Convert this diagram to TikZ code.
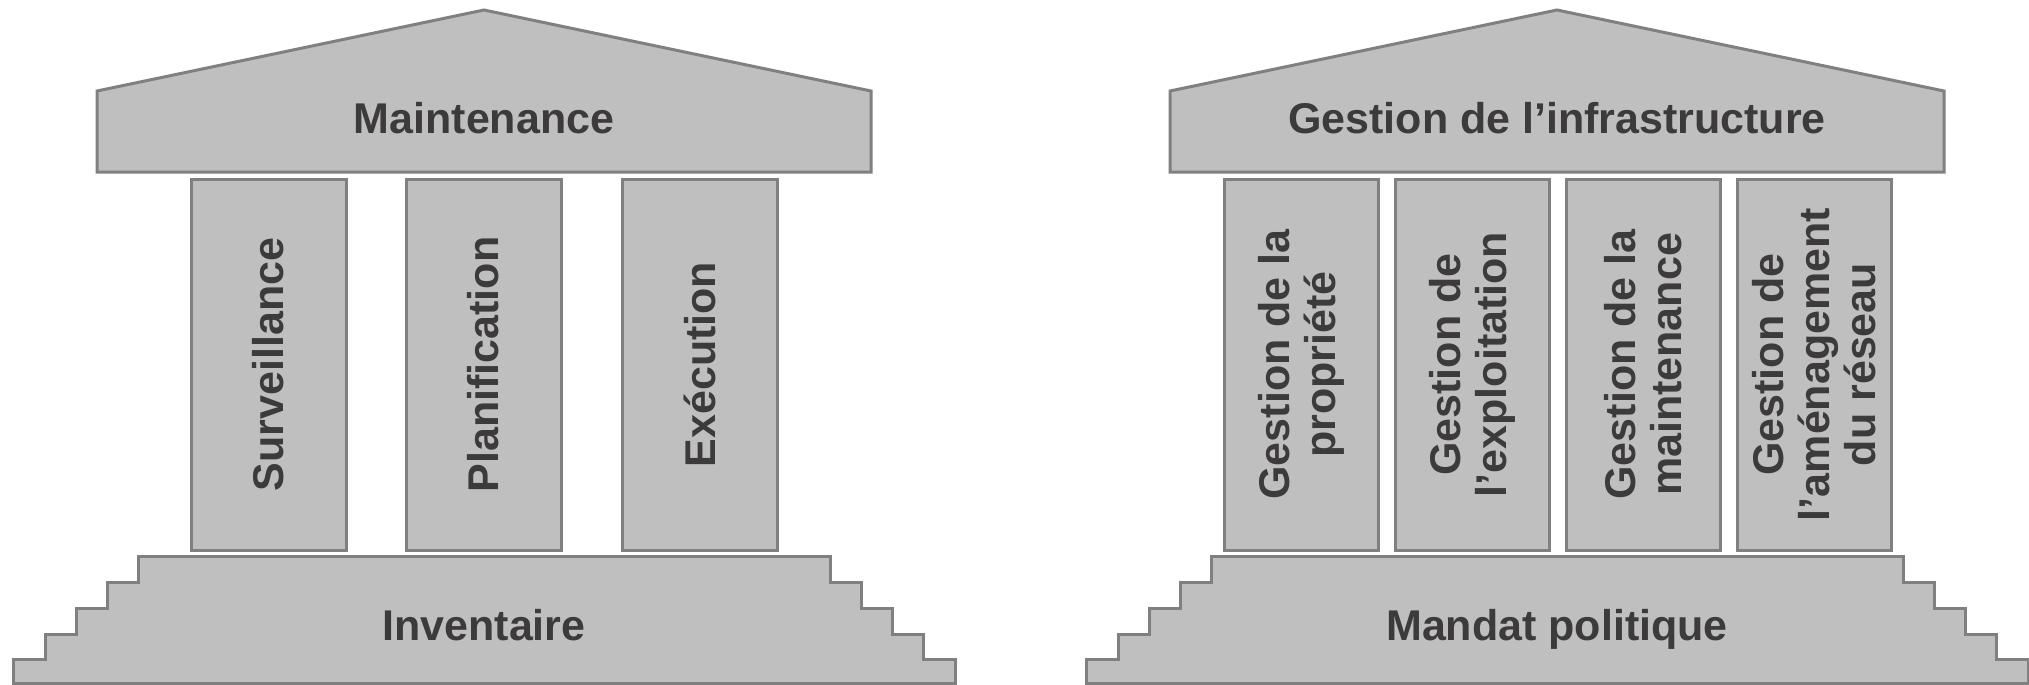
\documentclass[tikz,border=0pt]{standalone}
\usepackage{fontspec}
\setmainfont{Liberation Sans}
\usepackage{tikz}
\usetikzlibrary{calc}
\usetikzlibrary{positioning}

\definecolor{stonefill}{RGB}{191,191,191}
\definecolor{stoneline}{RGB}{128,128,128}
\definecolor{txtgray}{RGB}{60,58,58}

\begin{document}
\begin{tikzpicture}[x=1pt,y=-1pt,
		stone/.style={fill=stonefill,draw=stoneline,line width=3pt,line join=miter},
		lbl/.style={text=txtgray,font=\fontsize{43}{46}\selectfont\bfseries,anchor=base},
		pillar/.style={stone,rotate=90,minimum width=371pt,minimum height=155pt,inner sep=0pt,
			text=txtgray,font=\fontsize{43}{46}\selectfont\bfseries,align=center}]
			\useasboundingbox (0,0) rectangle (2029,685);
			%left temple: roof
			\draw[stone] (97,172)--(97,91)--(484,10)--(871,91)--(871,172)--cycle;
			\node[lbl] (roofL) at (484,133) {Maintenance};
			%left temple: pillars
			\node[pillar] (survL) at (268.5,364.5) {Surveillance};
			\node[pillar] (planL) at (483.5,364.5) {Planification};
			\node[pillar] (execL) at (699.5,364.5) {Exécution};
			%left temple: steps
			\draw[stone] (138,556)--(830,556)--(830,582)--(861,582)--(861,608)--(892,608)--(892,634)--(923,634)
				--(923,659)--(955,659)--(955,683)--(13,683)--(13,659)--(45,659)--(45,634)--(76,634)
				--(76,608)--(107,608)--(107,582)--(138,582)--cycle;
			\node[lbl] (baseL) at (484,640) {Inventaire};
			%right temple: roof
			\draw[stone] (1170,172)--(1170,91)--(1557,10)--(1944,91)--(1944,172)--cycle;
			\node[lbl] (roofR) at (1557,133) {Gestion de l’infrastructure};
			%right temple: pillars
			\node[pillar,minimum height=154pt] (propR) at (1301,364.5) {Gestion de la\\propriété};
			\node[pillar,minimum height=154pt] (explR) at (1472,364.5) {Gestion de\\l’exploitation};
			\node[pillar,minimum height=154pt] (maintR) at (1643,364.5) {Gestion de la\\maintenance};
			\node[pillar,minimum height=154pt] (amenR) at (1814,364.5) {Gestion de\\l’aménagement\\du réseau};
			%right temple: steps
			\draw[stone] (1211,556)--(1903,556)--(1903,582)--(1934,582)--(1934,608)--(1965,608)--(1965,634)--(1996,634)
				--(1996,659)--(2028,659)--(2028,683)--(1086,683)--(1086,659)--(1118,659)--(1118,634)--(1149,634)
				--(1149,608)--(1180,608)--(1180,582)--(1211,582)--cycle;
			\node[lbl] (baseR) at (1557,640) {Mandat politique};
		\end{tikzpicture}
\end{document}
